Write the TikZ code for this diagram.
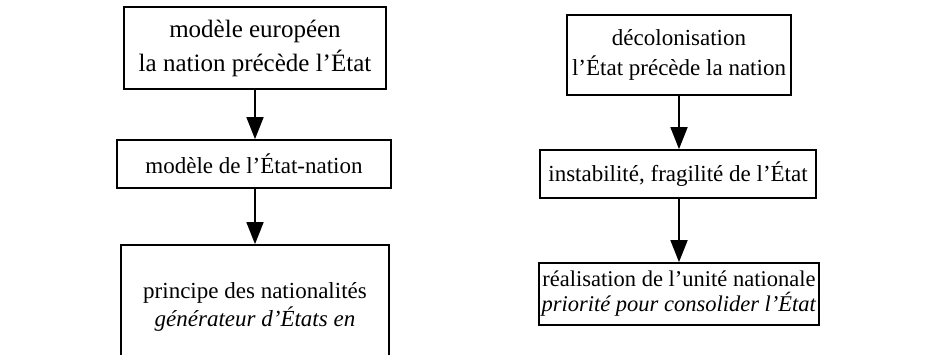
\documentclass[tikz,border=0pt]{standalone}
\usepackage{fontspec}
\setmainfont{Liberation Serif}
\usetikzlibrary{arrows.meta}
\begin{document}
\begin{tikzpicture}[x=1pt,y=-1pt,
  box/.style={draw, line width=1.8pt, align=center, inner sep=0pt, font=\fontsize{23}{30}\selectfont},
  fleche/.style={draw, line width=1.8pt, -{Triangle[length=22pt,width=17pt]}}]
\clip (0,0) rectangle (931,354);
% colonne de gauche
\node[box, minimum width=262pt, minimum height=82pt, font=\fontsize{25}{34}\selectfont] (europe) at (255,48) {modèle européen\\la nation précède l'État};
\node[box, minimum width=274pt, minimum height=48pt] (etatnation) at (254,164) {modèle de l'État-nation};
\node[box, minimum width=268pt, minimum height=124pt, font=\fontsize{23}{28}\selectfont] (principe) at (255,307) {principe des nationalités\\\textit{générateur d'États en}};
% colonne de droite
\node[box, minimum width=224pt, minimum height=80pt] (decolo) at (679,55) {décolonisation\\l'État précède la nation};
\node[box, minimum width=276pt, minimum height=48pt] (instable) at (678,174) {instabilité, fragilité de l'État};
\node[box, minimum width=280pt, minimum height=62pt, font=\fontsize{22.5}{25}\selectfont] (unite) at (679,294) {réalisation de l'unité nationale\\\textit{priorité pour consolider l'État}};
\path[fleche] (europe.south) -- (europe.south |- etatnation.north);
\path[fleche] (europe.south |- etatnation.south) -- (europe.south |- principe.north);
\path[fleche] (decolo.south) -- (decolo.south |- instable.north);
\path[fleche] (decolo.south |- instable.south) -- (decolo.south |- unite.north);
\end{tikzpicture}
\end{document}
